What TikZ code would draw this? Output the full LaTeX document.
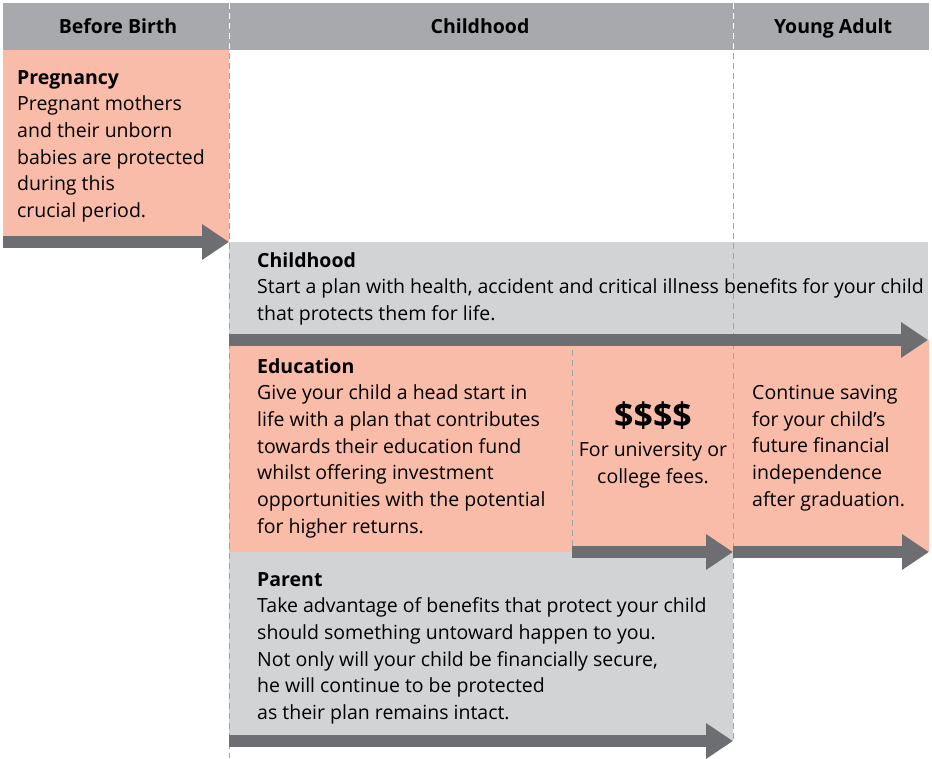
\documentclass[tikz,border=0pt]{standalone}
\usepackage{fontspec}
\setmainfont{Open Sans}
\usepackage{xcolor}
\usetikzlibrary{arrows.meta}
\definecolor{hdrgray}{HTML}{A7A9AC}
\definecolor{boxgray}{HTML}{D1D3D4}
\definecolor{salmon}{HTML}{F9BCA8}
\definecolor{arrgray}{HTML}{6D6E71}
\definecolor{dashgray}{HTML}{A0A2A5}
\tikzset{
  box/.style={anchor=north west, inner sep=0pt, outer sep=0pt},
  txt/.style={anchor=north west, align=left, inner sep=0pt, font=\fontsize{19.5}{26.7}\selectfont},
  hdr/.style={anchor=base, inner sep=0pt, font=\bfseries\fontsize{19.5}{22}\selectfont},
  blk/.style={arrgray, line width=12pt, -{Triangle[length=27pt,width=34pt]}},
  guide/.style={dashgray, line width=1pt, dash pattern=on 6pt off 4pt}
}

\begin{document}
\begin{tikzpicture}[x=1pt,y=-1pt]
	  \useasboundingbox (0,0) rectangle (932,758);
	  % header band
	  \fill[hdrgray] (3,3) rectangle (929,50);
	  \node[hdr] (before) at (118,33) {Before Birth};
	  \node[hdr] (childhd) at (480,33) {Childhood};
	  \node[hdr] (young) at (833,33) {Young Adult};
	  % coloured blocks
	  \node[box, fill=salmon, minimum width=226pt, minimum height=192pt] (pregbox) at (3,50) {};
	  \node[box, fill=boxgray, minimum width=699pt, minimum height=98pt] (childbox) at (229,242) {};
	  \node[box, fill=salmon, minimum width=504pt, minimum height=212pt] (edubox) at (229,340) {};
	  \node[box, fill=salmon, minimum width=196pt, minimum height=212pt] (adultbox) at (733,340) {};
	  \node[box, fill=boxgray, minimum width=504pt, minimum height=189pt] (parbox) at (229,552) {};
	  % dashed guides
	  \draw[guide] (229,3) -- (229,758);
	  \draw[guide] (733,3) -- (733,741);
	  \draw[guide] (572,340) -- (572,546);
	  \draw[guide, white] (229,3) -- (229,50);
	  \draw[guide, white] (733,3) -- (733,50);
	  % arrows
	  \coordinate (feestart) at (572,552);
	  \draw[blk] (pregbox.south west) -- (pregbox.south east);
	  \draw[blk] (childbox.south west) -- (childbox.south east);
	  \draw[blk] (feestart) -- (edubox.south east);
	  \draw[blk] (adultbox.south west) -- (adultbox.south east);
	  \draw[blk] (parbox.south west) -- (parbox.south east);
	  % texts
	  \node[txt] (pregtxt) at (17,70) {\textbf{Pregnancy}\\Pregnant mothers\\and their unborn\\babies are protected\\during this\\crucial period.};
	  \node[txt] (childtxt) at (257,252) {\textbf{Childhood}\\Start a plan with health, accident and critical illness benefits for your child\\that protects them for life.};
	  \node[txt] (edutxt) at (257,358) {\textbf{Education}\\Give your child a head start in\\life with a plan that contributes\\towards their education fund\\whilst offering investment\\opportunities with the potential\\for higher returns.};
	  \node[inner sep=0pt, font=\bfseries\fontsize{34}{38}\selectfont] (dollars) at (653,416) {\$\$\$\$};
	  \node[txt, anchor=north, align=center] (feetxt) at (653,442) {For university or\\college fees.};
	  \node[txt] (adulttxt) at (752,385) {Continue saving\\for your child’s\\future financial\\independence\\after graduation.};
	  \node[txt] (partxt) at (257,572) {\textbf{Parent}\\Take advantage of benefits that protect your child\\should something untoward happen to you.\\Not only will your child be financially secure,\\he will continue to be protected\\as their plan remains intact.};
	\end{tikzpicture}
\end{document}
